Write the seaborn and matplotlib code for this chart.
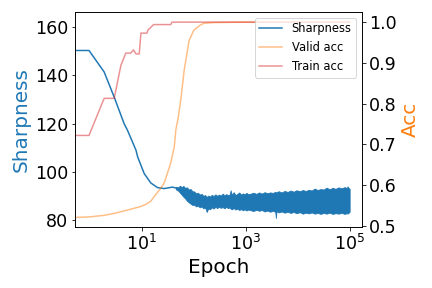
import pandas as pd
import matplotlib
matplotlib.use("Agg")
import matplotlib.pyplot as plt
import seaborn as sns
from matplotlib.ticker import NullLocator

# sharpness, smooth early part
sharp_epoch = [0.52, 0.96, 1.88, 2.93, 4.55, 5.3, 7.7, 8.3, 11.1, 14.9, 20, 27, 39, 49]
sharp_value = [150.3, 150.3, 141.4, 131.0, 120.0, 117.2, 109.0, 106.2, 99.3, 95.4, 93.5, 93.1, 93.7, 93.1]

# sharpness, noisy band (upper / lower envelope)
band_epoch = [45, 50, 54, 58, 63, 68, 74, 80, 87, 94,
              102, 110, 120, 130, 141, 153, 166, 177, 190, 205,
              222, 240, 260, 282, 305, 330, 360, 390, 420, 455,
              495, 510, 540, 585, 635, 690, 750, 810, 880, 950,
              1030, 1120, 1250, 1400, 1600, 1800, 2050, 2300, 2600, 2950,
              3350, 3700, 3800, 3900, 4300, 4900, 5600, 6400, 7300, 8300,
              9500, 11000, 12500, 14300, 16300, 18600, 21200, 24200, 27600, 31500,
              36000, 41000, 47000, 53500, 61000, 70000, 80000, 88000, 91000, 95000,
              100000]
band_upper = [93.8, 93.6, 94.3, 93.7, 94.2, 93.4, 93.6, 92.7, 92.9, 92.0,
              91.9, 91.1, 91.4, 90.6, 90.9, 90.1, 90.4, 89.6, 90.2, 89.8,
              90.5, 90.0, 90.7, 90.1, 90.6, 90.2, 91.0, 90.3, 90.8, 90.4,
              90.7, 92.4, 90.5, 91.6, 90.4, 90.9, 91.5, 90.6, 91.1, 90.7,
              91.3, 90.8, 91.0, 91.4, 90.9, 91.5, 91.0, 91.6, 91.2, 91.5,
              91.3, 91.8, 91.4, 91.6, 92.0, 91.5, 92.1, 91.7, 92.3, 91.8,
              92.4, 92.0, 92.5, 92.1, 92.6, 92.3, 93.1, 92.5, 92.9, 92.7,
              93.5, 92.8, 93.4, 93.0, 93.6, 93.2, 93.7, 93.3, 94.0, 93.4,
              93.0]
band_lower = [92.8, 92.2, 91.4, 90.6, 89.7, 89.0, 88.0, 87.4, 86.8, 86.3,
              86.4, 85.7, 86.0, 85.3, 85.7, 84.9, 85.2, 83.4, 84.9, 84.5,
              85.3, 84.8, 85.5, 85.0, 85.6, 85.1, 85.4, 84.9, 85.5, 85.0,
              85.3, 84.8, 84.5, 85.0, 84.4, 84.8, 84.2, 84.6, 84.1, 84.5,
              84.0, 84.4, 84.1, 83.8, 84.3, 83.9, 84.2, 83.6, 84.0, 83.5,
              83.9, 83.4, 80.9, 83.7, 83.2, 83.6, 83.1, 83.5, 83.0, 83.4,
              82.9, 83.3, 82.7, 83.1, 82.8, 83.2, 82.7, 83.0, 82.6, 83.0,
              82.7, 83.1, 82.6, 82.9, 82.7, 83.0, 82.6, 82.9, 82.7, 83.0,
              83.5]

# validation accuracy
valid_epoch = [0.52, 0.96, 1.88, 3.0, 5.3, 7.0, 9.6, 12.0, 14.9, 18.0, 23.0, 27.0, 31.0, 36.0,
               42.0, 45.0, 50.0, 56.0, 65.0, 81.0, 100.0, 130.0, 155.0, 250.0, 1000.0, 100000.0]
valid_acc = [0.521, 0.522, 0.526, 0.531, 0.539, 0.543, 0.548, 0.553, 0.561, 0.575, 0.592, 0.606, 0.629, 0.655,
             0.693, 0.735, 0.765, 0.808, 0.880, 0.955, 0.980, 0.992, 0.997, 0.999, 1.0, 1.0]

# training accuracy (step-like)
train_epoch = [0.52, 0.96, 1.88, 2.93, 3.95, 4.9, 6.1, 6.9, 7.7, 8.9, 9.6, 12.5, 13.2, 14.0,
               16.8, 36.0, 38.0, 100000.0]
train_acc = [0.722, 0.722, 0.813, 0.813, 0.894, 0.924, 0.924, 0.932, 0.922, 0.922, 0.973, 0.973,
             0.981, 0.984, 0.994, 0.994, 1.0, 1.0]

blue = "tab:blue"
orange = "tab:orange"
red = "tab:red"

fig, ax = plt.subplots(figsize=(6, 4), dpi=72)
fig.subplots_adjust(left=0.174, right=0.838, top=0.958, bottom=0.212)

df_sharp = pd.DataFrame({"Epoch": sharp_epoch, "Sharpness": sharp_value})
sns.lineplot(data=df_sharp, x="Epoch", y="Sharpness", color=blue, ax=ax, label="Sharpness")
ax.fill_between(band_epoch, band_lower, band_upper, color=blue, linewidth=0.8, edgecolor=blue)

ax2 = ax.twinx()
df_valid = pd.DataFrame({"Epoch": valid_epoch, "Acc": valid_acc})
df_train = pd.DataFrame({"Epoch": train_epoch, "Acc": train_acc})
sns.lineplot(data=df_valid, x="Epoch", y="Acc", color=orange, alpha=0.5, ax=ax2, label="Valid acc")
sns.lineplot(data=df_train, x="Epoch", y="Acc", color=red, alpha=0.5, ax=ax2, label="Train acc")

ax.set_xscale("log")
ax.set_xlim(0.52, 1.73e5)
ax.set_xticks([1e1, 1e3, 1e5])
ax.xaxis.set_minor_locator(NullLocator())
ax.set_ylim(77.2, 166.2)
ax2.set_ylim(0.4975, 1.0246)

ax.set_xlabel("Epoch", fontsize=20)
ax.set_ylabel("Sharpness", fontsize=20, color=blue)
ax2.set_ylabel("Acc", fontsize=20, color=orange)
ax.tick_params(labelsize=17.5)
ax2.tick_params(labelsize=17.5)

h1, l1 = ax.get_legend_handles_labels()
h2, l2 = ax2.get_legend_handles_labels()
ax.get_legend().remove()
ax2.get_legend().remove()
ax2.legend(h1 + h2, l1 + l2, loc="upper right", fontsize=11.5)

fig.savefig("out.png", dpi=72)
